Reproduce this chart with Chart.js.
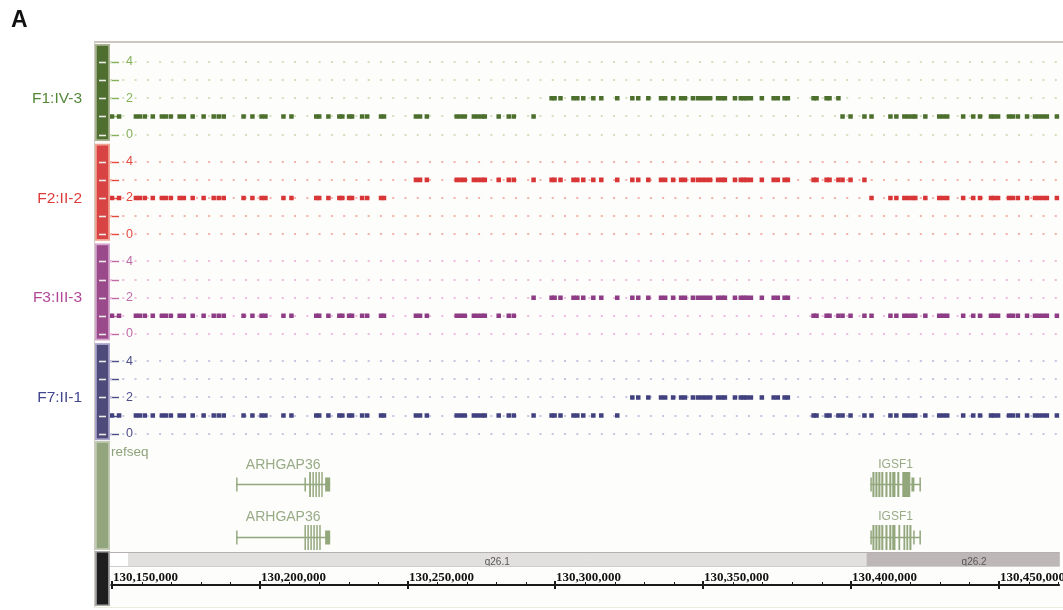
<!DOCTYPE html>
<html>
<head>
<meta charset="utf-8">
<script src="https://cdn.jsdelivr.net/npm/chart.js@4.4.0/dist/chart.umd.min.js"></script>
<style>
  html, body { margin: 0; padding: 0; background: #ffffff; }
  #wrap { width: 1063px; height: 610px; }
</style>
</head>
<body>
<div id="wrap"><canvas id="cnvChart" width="1063" height="610"></canvas></div>
<script>
// probe positions on chrX (bp), shared by all samples
const probePositions = [
  130150000, 130152400, 130158100, 130159400, 130161100, 130163800, 130166900, 130168200, 130169900, 130172900,
  130174300, 130177300, 130181000, 130184400, 130186100, 130187800, 130194500, 130197500, 130200600, 130201900,
  130208000, 130210700, 130219100, 130220100, 130223200, 130226900, 130227900, 130230200, 130231200, 130234600,
  130236300, 130241000, 130242000, 130252800, 130254200, 130256500, 130266600, 130268000, 130269300, 130272400,
  130273700, 130275100, 130276100, 130280800, 130284200, 130285900, 130292600, 130298700, 130299700, 130301700,
  130306100, 130307400, 130309400, 130312800, 130315500, 130320900, 130326000, 130328000, 130331400, 130335700,
  130337100, 130339800, 130342500, 130343800, 130346500, 130348200, 130349600, 130350900, 130352300, 130355000,
  130356300, 130357300, 130360700, 130362700, 130363700, 130364700, 130366100, 130369800, 130373800, 130375200,
  130377500, 130378600, 130387300, 130388300, 130391700, 130392700, 130395700, 130397100, 130399800, 130404500,
  130406900, 130413300, 130415300, 130418000, 130419300, 130420700, 130421700, 130425100, 130429800, 130431100,
  130432500, 130437900, 130441300, 130443600, 130447300, 130448300, 130449700, 130453400, 130454700, 130456400,
  130459500, 130462200, 130463500, 130464900, 130466200, 130469600
];

// copy number per probe
const f1Values = [
  1, 1, 1, 1, 1, 1, 1, 1, 1, 1,
  1, 1, 1, 1, 1, 1, 1, 1, 1, 1,
  1, 1, 1, 1, 1, 1, 1, 1, 1, 1,
  1, 1, 1, 1, 1, 1, 1, 1, 1, 1,
  1, 1, 1, 1, 1, 1, 1, 2, 2, 2,
  2, 2, 2, 2, 2, 2, 2, 2, 2, 2,
  2, 2, 2, 2, 2, 2, 2, 2, 2, 2,
  2, 2, 2, 2, 2, 2, 2, 2, 2, 2,
  2, 2, 2, 2, 2, 2, 2, 1, 1, 1,
  1, 1, 1, 1, 1, 1, 1, 1, 1, 1,
  1, 1, 1, 1, 1, 1, 1, 1, 1, 1,
  1, 1, 1, 1, 1, 1
];
const f2Values = [
  2, 2, 2, 2, 2, 2, 2, 2, 2, 2,
  2, 2, 2, 2, 2, 2, 2, 2, 2, 2,
  2, 2, 2, 2, 2, 2, 2, 2, 2, 2,
  2, 2, 2, 3, 3, 3, 3, 3, 3, 3,
  3, 3, 3, 3, 3, 3, 3, 3, 3, 3,
  3, 3, 3, 3, 3, 3, 3, 3, 3, 3,
  3, 3, 3, 3, 3, 3, 3, 3, 3, 3,
  3, 3, 3, 3, 3, 3, 3, 3, 3, 3,
  3, 3, 3, 3, 3, 3, 3, 3, 3, 3,
  2, 2, 2, 2, 2, 2, 2, 2, 2, 2,
  2, 2, 2, 2, 2, 2, 2, 2, 2, 2,
  2, 2, 2, 2, 2, 2
];
const f3Values = [
  1, 1, 1, 1, 1, 1, 1, 1, 1, 1,
  1, 1, 1, 1, 1, 1, 1, 1, 1, 1,
  1, 1, 1, 1, 1, 1, 1, 1, 1, 1,
  1, 1, 1, 1, 1, 1, 1, 1, 1, 1,
  1, 1, 1, 1, 1, 1, 2, 2, 2, 2,
  2, 2, 2, 2, 2, 2, 2, 2, 2, 2,
  2, 2, 2, 2, 2, 2, 2, 2, 2, 2,
  2, 2, 2, 2, 2, 2, 2, 2, 2, 2,
  2, 2, 1, 1, 1, 1, 1, 1, 1, 1,
  1, 1, 1, 1, 1, 1, 1, 1, 1, 1,
  1, 1, 1, 1, 1, 1, 1, 1, 1, 1,
  1, 1, 1, 1, 1, 1
];
const f7Values = [
  1, 1, 1, 1, 1, 1, 1, 1, 1, 1,
  1, 1, 1, 1, 1, 1, 1, 1, 1, 1,
  1, 1, 1, 1, 1, 1, 1, 1, 1, 1,
  1, 1, 1, 1, 1, 1, 1, 1, 1, 1,
  1, 1, 1, 1, 1, 1, 1, 1, 1, 1,
  1, 1, 1, 1, 1, 1, 2, 2, 2, 2,
  2, 2, 2, 2, 2, 2, 2, 2, 2, 2,
  2, 2, 2, 2, 2, 2, 2, 2, 2, 2,
  2, 2, 1, 1, 1, 1, 1, 1, 1, 1,
  1, 1, 1, 1, 1, 1, 1, 1, 1, 1,
  1, 1, 1, 1, 1, 1, 1, 1, 1, 1,
  1, 1, 1, 1, 1, 1
];

const trackNames = ['F1:IV-3', 'F2:II-2', 'F3:III-3', 'F7:II-1'];
const trackValues = [f1Values, f2Values, f3Values, f7Values];
const copyLevels = [0, 1, 2, 3, 4];

// refseq transcripts: [start, end, coding]
const arhgap36ExonsA = [
  [130192000, 130192400, 0], [130215100, 130215600, 0], [130216700, 130217300, 1], [130217800, 130218300, 1],
  [130218800, 130219300, 1], [130219800, 130220300, 1], [130220800, 130221200, 1], [130222100, 130223800, 0]
];
const arhgap36ExonsB = [
  [130192000, 130192400, 0], [130215100, 130215600, 1], [130216100, 130216600, 1], [130217100, 130217600, 1],
  [130218100, 130218600, 1], [130219100, 130219600, 1], [130220100, 130220600, 1], [130222100, 130223800, 0]
];
const igsf1ExonsA = [
  [130406500, 130407000, 0], [130407200, 130407900, 1], [130408200, 130408900, 1], [130409200, 130409900, 1],
  [130410200, 130410900, 1], [130411600, 130412300, 1], [130412900, 130413600, 1], [130413900, 130415000, 1],
  [130415600, 130416300, 1], [130417300, 130420000, 1], [130420400, 130421400, 0], [130423100, 130423600, 0]
];
const igsf1ExonsB = [
  [130406500, 130407000, 0], [130407200, 130407900, 1], [130408200, 130408900, 1], [130409200, 130409900, 1],
  [130410200, 130410900, 1], [130411600, 130412300, 1], [130412900, 130413600, 1], [130413900, 130415000, 1],
  [130416000, 130416600, 1], [130417700, 130418300, 1], [130418700, 130419300, 1], [130419700, 130420400, 1],
  [130421000, 130421500, 0], [130423100, 130423600, 0]
];
const geneNames = ['ARHGAP36', 'ARHGAP36', 'IGSF1', 'IGSF1'];
const geneExons = [arhgap36ExonsA, arhgap36ExonsB, igsf1ExonsA, igsf1ExonsB];
const geneRows = [0, 1, 0, 1];

const bandNames = ['q26.1', 'q26.2'];
const bandStarts = [130155400, 130405200];
const bandEnds = [130405200, 130478000];

const rulerMajor = [130150000, 130200000, 130250000, 130300000, 130350000, 130400000, 130450000];
const rulerLabels = ['130,150,000', '130,200,000', '130,250,000', '130,300,000', '130,350,000', '130,400,000', '130,450,000'];

// ---- styling / layout ----
const trackOffsets = [16.5, 11, 5.5, 0];
const trackStyles = [
  { strip: '#4f6f31', edge: '#a9b392', dot: '#4c6f2e', label: '#55883a', tick: '#82b158', grid: '#d3e0bd' },
  { strip: '#d84444', edge: '#f1a494', dot: '#d83636', label: '#e03a3a', tick: '#e8493f', grid: '#f6b2a8' },
  { strip: '#9a4a8a', edge: '#d5a6cc', dot: '#8e3c86', label: '#b24897', tick: '#c06aa8', grid: '#efbadf' },
  { strip: '#4e4b7b', edge: '#aca6cc', dot: '#41417f', label: '#41468e', tick: '#4d4d8c', grid: '#c6c6e4' }
];
const geneColor = '#93a77d';
const sans = "'Liberation Sans', Arial, sans-serif";

// y tick list: ascending (F7 at bottom ... F1 at top)
const tickValues = [];
[3, 2, 1, 0].forEach(k => copyLevels.forEach(v => tickValues.push(trackOffsets[k] + v)));
const trackOfTick = i => 3 - Math.floor(i / 5);

const decorPlugin = {
  id: 'igvDecor',
  beforeDraw(chart) {
    const ctx = chart.ctx;
    const ys = chart.scales.y;
    ctx.save();
    ctx.fillStyle = '#fdfdfb';
    ctx.fillRect(94, 42, 969, 566);
    // frame
    ctx.strokeStyle = '#cdc6bf';
    ctx.lineWidth = 2;
    ctx.beginPath(); ctx.moveTo(94, 42); ctx.lineTo(1063, 42); ctx.stroke();
    ctx.lineWidth = 1;
    ctx.strokeStyle = '#cfcac2';
    ctx.beginPath(); ctx.moveTo(94.5, 42); ctx.lineTo(94.5, 607); ctx.stroke();
    ctx.strokeStyle = '#ecebdc';
    ctx.beginPath(); ctx.moveTo(94, 607.5); ctx.lineTo(1063, 607.5); ctx.stroke();

    // sample strips, white level dashes and names
    trackStyles.forEach((s, k) => {
      const off = trackOffsets[k];
      const top = ys.getPixelForValue(off + 4) - 18;
      const bot = ys.getPixelForValue(off) + 6.5;
      ctx.fillStyle = s.edge;
      ctx.fillRect(95, top, 15, bot - top);
      ctx.fillStyle = s.strip;
      ctx.fillRect(96.8, top + 1.8, 11.4, bot - top - 3.6);
      copyLevels.forEach(v => {
        const py = Math.round(ys.getPixelForValue(off + v)) + 0.5;
        ctx.strokeStyle = '#ecebe6';
        ctx.lineWidth = 1.6;
        ctx.beginPath(); ctx.moveTo(99, py); ctx.lineTo(106, py); ctx.stroke();
        ctx.strokeStyle = s.tick;
        ctx.lineWidth = 1.4;
        ctx.beginPath(); ctx.moveTo(110, py); ctx.lineTo(119, py); ctx.stroke();
      });
      ctx.fillStyle = s.label;
      ctx.font = '15.5px ' + sans;
      ctx.textAlign = 'right';
      ctx.textBaseline = 'middle';
      ctx.fillText(trackNames[k], 82, ys.getPixelForValue(off + 2) + 0.5);
    });

    // refseq strip and ruler strip
    ctx.fillStyle = '#c3cbb4';
    ctx.fillRect(95, 441, 15, 109);
    ctx.fillStyle = '#93a57d';
    ctx.fillRect(96.8, 442.8, 11.4, 105.4);
    ctx.fillStyle = '#a8a8a8';
    ctx.fillRect(95, 551, 15, 55);
    ctx.fillStyle = '#1e1e1e';
    ctx.fillRect(96.8, 552.5, 11.4, 52);

    // panel letter
    ctx.fillStyle = '#111111';
    ctx.font = 'bold 23px ' + sans;
    ctx.textAlign = 'left';
    ctx.textBaseline = 'alphabetic';
    ctx.fillText('A', 11, 27);
    ctx.restore();
  },
  afterDraw(chart) {
    const ctx = chart.ctx;
    const xs = chart.scales.x;
    const left = chart.chartArea.left, right = chart.chartArea.right;
    ctx.save();

    // refseq track
    ctx.fillStyle = '#8ea27a';
    ctx.font = '13.5px ' + sans;
    ctx.textAlign = 'left';
    ctx.textBaseline = 'middle';
    ctx.fillText('refseq', 111, 452);

    const rowLineY = [484.5, 537.5];
    const rowLabelY = [465, 517];
    geneExons.forEach((exons, g) => {
      const lineY = rowLineY[geneRows[g]];
      const x0 = xs.getPixelForValue(exons[0][0]);
      const x1 = xs.getPixelForValue(exons[exons.length - 1][1]);
      ctx.strokeStyle = geneColor;
      ctx.lineWidth = 1.3;
      ctx.beginPath(); ctx.moveTo(x0, lineY); ctx.lineTo(x1, lineY); ctx.stroke();
      ctx.fillStyle = geneColor;
      exons.forEach(([s, e, coding]) => {
        const a = xs.getPixelForValue(s), b = xs.getPixelForValue(e);
        const h = coding ? 25 : 14;
        ctx.fillRect(a, lineY - h / 2, Math.max(b - a, 1.4), h);
      });
      ctx.fillStyle = '#98ab86';
      ctx.font = (geneNames[g].length > 6 ? '14px ' : '12px ') + sans;
      ctx.textAlign = 'center';
      ctx.fillText(geneNames[g], (x0 + x1) / 2, rowLabelY[geneRows[g]]);
    });

    // cytoband strip
    ctx.fillStyle = '#ffffff';
    ctx.fillRect(left, 552, right - left, 14);
    ctx.beginPath(); ctx.rect(left, 540, right - left, 40); ctx.clip();
    bandNames.forEach((name, b) => {
      const a = xs.getPixelForValue(bandStarts[b]);
      const e = xs.getPixelForValue(bandEnds[b]);
      ctx.fillStyle = b === 0 ? '#e2dfdf' : '#bdb7b7';
      ctx.fillRect(a, 552.5, e - a, 13.5);
      ctx.fillStyle = '#5a5656';
      ctx.font = '10px ' + sans;
      ctx.textAlign = 'center';
      ctx.textBaseline = 'alphabetic';
      ctx.fillText(name, (a + e) / 2, 564.5);
    });
    ctx.strokeStyle = '#b7b0b0';
    ctx.lineWidth = 1;
    ctx.beginPath(); ctx.moveTo(left, 552.5); ctx.lineTo(right, 552.5); ctx.stroke();
    ctx.strokeStyle = '#d2cdcd';
    ctx.beginPath(); ctx.moveTo(left, 566.5); ctx.lineTo(right, 566.5); ctx.stroke();
    ctx.restore();
    ctx.save();

    // genomic ruler
    const lineY = 585;
    ctx.strokeStyle = '#1a1a1a';
    ctx.lineWidth = 2;
    ctx.beginPath(); ctx.moveTo(left + 0.5, lineY); ctx.lineTo(right, lineY); ctx.stroke();
    ctx.lineWidth = 1;
    for (let p = rulerMajor[0]; xs.getPixelForValue(p) <= right; p += 10000) {
      const px = Math.round(xs.getPixelForValue(p)) + 0.5;
      ctx.beginPath(); ctx.moveTo(px, lineY - 3); ctx.lineTo(px, lineY); ctx.stroke();
    }
    ctx.lineWidth = 2;
    ctx.fillStyle = '#111111';
    ctx.font = 'bold 13px "Liberation Serif", "Times New Roman", serif';
    ctx.textAlign = 'left';
    ctx.textBaseline = 'alphabetic';
    rulerMajor.forEach((p, i) => {
      const px = Math.round(xs.getPixelForValue(p));
      ctx.beginPath(); ctx.moveTo(px, lineY - 4); ctx.lineTo(px, lineY + 4); ctx.stroke();
      ctx.fillText(rulerLabels[i], px + 1, 581);
    });
    ctx.restore();
  }
};

new Chart(document.getElementById('cnvChart'), {
  type: 'scatter',
  data: {
    datasets: trackNames.map((name, k) => ({
      label: name,
      data: probePositions.map((pos, i) => ({ x: pos, y: trackOffsets[k] + trackValues[k][i] })),
      pointStyle: 'rect',
      pointRadius: 3.2,
      pointHoverRadius: 3.2,
      pointBorderWidth: 0,
      backgroundColor: trackStyles[k].dot,
      borderColor: trackStyles[k].dot
    }))
  },
  options: {
    responsive: false,
    animation: false,
    events: [],
    layout: { padding: { left: 110, right: 0, top: 43, bottom: 170 } },
    plugins: { legend: { display: false }, tooltip: { enabled: false } },
    scales: {
      x: {
        type: 'linear',
        display: false,
        min: 130149330,
        max: 130470580
      },
      y: {
        type: 'linear',
        min: -0.35,
        max: 21.55,
        afterFit: scale => { scale.width = 0; },
        afterBuildTicks: scale => { scale.ticks = tickValues.map(v => ({ value: v })); },
        border: { display: false, dash: [2, 10.27] },
        grid: {
          drawTicks: false,
          lineWidth: 2,
          color: ctx => trackStyles[trackOfTick(ctx.index)].grid
        },
        ticks: {
          mirror: true,
          padding: 16,
          autoSkip: false,
          font: { family: sans, size: 12.5 },
          color: ctx => trackStyles[trackOfTick(ctx.index)].tick,
          callback: (v, i) => {
            const level = i % 5;
            return level % 2 === 0 ? String(level) : '';
          }
        }
      }
    }
  },
  plugins: [decorPlugin]
});
</script>
</body>
</html>
